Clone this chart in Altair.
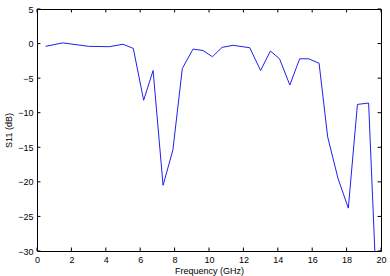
import altair as alt
import pandas as pd

freq = [0.5, 1.5, 3.0, 4.2, 5.0, 5.6, 6.2, 6.75, 7.33, 7.9, 8.45, 9.07, 9.65, 10.2, 10.76,
        11.4, 12.37, 13.0, 13.57, 14.1, 14.7, 15.27, 15.8, 16.4, 16.9, 17.5, 18.1, 18.63, 19.28, 19.65]
s11 = [-0.4, 0.1, -0.4, -0.45, -0.1, -0.7, -8.2, -3.9, -20.5, -15.4, -3.6, -0.8, -1.0, -1.9, -0.55,
       -0.25, -0.6, -3.9, -1.07, -2.2, -6.0, -2.2, -2.2, -2.85, -13.5, -19.5, -23.8, -8.8, -8.6, -30.5]
x_ticks = [0, 2, 4, 6, 8, 10, 12, 14, 16, 18, 20]
y_ticks = [5, 0, -5, -10, -15, -20, -25, -30]

df = pd.DataFrame({"f": freq, "s": s11})
xs = alt.Scale(domain=[0, 20], nice=False, zero=False)
ys = alt.Scale(domain=[-30, 5], nice=False, zero=False)
FONT = "Liberation Sans"

common = dict(tickSize=0, grid=False, domain=False, labelPadding=4,
              labelFontSize=9, labelFont=FONT, labelColor="#000",
              labelOverlap=False, labelFlush=False,
              titleFont=FONT, titleFontSize=9, titleFontWeight="normal", titleColor="#000")
xaxis = alt.Axis(values=x_ticks, titlePadding=2, **common)
yaxis = alt.Axis(values=y_ticks, titlePadding=4, **common)
XT = "Frequency (GHz)"
YT = "S11 (dB)"

line = alt.Chart(df).mark_line(color="#2020f0", strokeWidth=1, clip=True).encode(
    x=alt.X("f:Q", scale=xs, title=XT, axis=xaxis),
    y=alt.Y("s:Q", scale=ys, title=YT, axis=yaxis),
)

xt = pd.DataFrame({"t": x_ticks})
yt = pd.DataFrame({"t": y_ticks})
tick_len_y = 0.5   # dB
tick_len_x = 0.2   # GHz
bx = alt.Chart(xt).mark_rule(color="#000", strokeWidth=1).encode(
    x=alt.X("t:Q", scale=xs, title=XT, axis=xaxis),
    y=alt.YDatum(-30, scale=ys, title=YT, axis=yaxis), y2=alt.Y2Datum(-30 + tick_len_y))
tx = alt.Chart(xt).mark_rule(color="#000", strokeWidth=1).encode(
    x=alt.X("t:Q", scale=xs, title=XT, axis=xaxis),
    y=alt.YDatum(5, scale=ys, title=YT, axis=yaxis), y2=alt.Y2Datum(5 - tick_len_y))
ly = alt.Chart(yt).mark_rule(color="#000", strokeWidth=1).encode(
    y=alt.Y("t:Q", scale=ys, title=YT, axis=yaxis),
    x=alt.XDatum(0, scale=xs, title=XT, axis=xaxis), x2=alt.X2Datum(tick_len_x))
ry = alt.Chart(yt).mark_rule(color="#000", strokeWidth=1).encode(
    y=alt.Y("t:Q", scale=ys, title=YT, axis=yaxis),
    x=alt.XDatum(20, scale=xs, title=XT, axis=xaxis), x2=alt.X2Datum(20 - tick_len_x))

chart = alt.layer(line, bx, tx, ly, ry).properties(
    width=344, height=242,
    autosize="none",
    padding={"left": 37, "top": 9, "right": 9, "bottom": 25},
    background="white",
).configure_view(stroke="#000", strokeWidth=1)

chart.save("out.html", embed_options={"renderer": "svg", "actions": False})
